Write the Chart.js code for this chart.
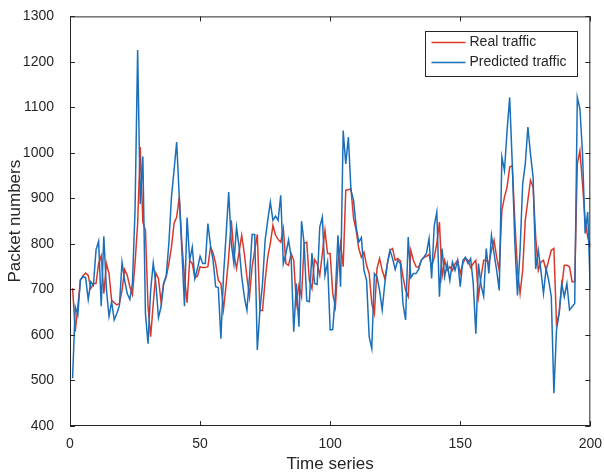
<!DOCTYPE html>
<html>
<head>
<meta charset="utf-8">
<script src="https://cdn.jsdelivr.net/npm/chart.js@4.4.1/dist/chart.umd.min.js"></script>
<style>
  html, body { margin: 0; padding: 0; background: #fff; }
</style>
</head>
<body>
<canvas id="traffic-chart" width="604" height="475"></canvas>
<script>
// series, one value per time step (1..200)
const realTraffic = [
  703, 607, 662, 720, 730, 736, 731, 702, 713, 713,
  757, 774, 691, 757, 735, 676, 671, 666, 669, 698,
  744, 731, 706, 689, 757, 845, 1013, 848, 830, 662,
  596, 669, 736, 724, 673, 713, 728, 757, 793, 845,
  859, 903, 801, 728, 671, 764, 757, 726, 729, 750,
  748, 748, 750, 793, 780, 757, 720, 713, 656, 710,
  771, 852, 779, 746, 782, 819, 779, 728, 684, 750,
  786, 821, 654, 654, 720, 771, 801, 841, 819, 810,
  804, 834, 757, 753, 779, 764, 669, 709, 684, 801,
  804, 720, 702, 766, 757, 731, 779, 830, 779, 779,
  691, 662, 757, 801, 750, 918, 919, 921, 856, 830,
  790, 771, 782, 753, 735, 669, 647, 746, 768, 742,
  724, 757, 786, 790, 764, 768, 763, 728, 698, 684,
  786, 764, 750, 748, 764, 770, 773, 777, 750, 770,
  801, 848, 728, 764, 742, 750, 742, 757, 764, 735,
  757, 768, 764, 748, 757, 764, 684, 728, 764, 764,
  757, 786, 808, 771, 742, 874, 903, 925, 969, 972,
  850, 742, 691, 742, 852, 896, 940, 925, 815, 742,
  760, 764, 742, 764, 786, 790, 625, 647, 706, 753,
  753, 750, 717, 717, 976, 1005, 932, 852, 815, 793
];

const predictedTraffic = [
  505, 662, 644, 722, 728, 726, 678, 717, 709, 787,
  806, 663, 817, 700, 641, 673, 633, 647, 665, 760,
  720, 691, 678, 713, 874, 1226, 888, 992, 647, 581,
  698, 758, 713, 638, 662, 713, 731, 801, 903, 962,
  1024, 903, 786, 663, 858, 764, 793, 724, 746, 773,
  757, 757, 845, 797, 764, 706, 704, 592, 730, 820,
  914, 801, 757, 837, 793, 728, 684, 654, 728, 821,
  821, 567, 654, 713, 808, 852, 892, 852, 861, 852,
  907, 757, 779, 809, 771, 607, 713, 618, 850, 801,
  675, 673, 780, 713, 711, 837, 859, 731, 760, 611,
  612, 691, 819, 706, 1049, 976, 1035, 918, 896, 837,
  804, 814, 742, 720, 596, 570, 735, 728, 698, 655,
  713, 757, 786, 768, 744, 764, 757, 668, 633, 815,
  726, 735, 735, 744, 764, 771, 779, 812, 724, 840,
  870, 684, 790, 728, 757, 720, 760, 742, 764, 706,
  764, 771, 757, 768, 713, 603, 757, 709, 685, 790,
  735, 819, 779, 742, 698, 991, 961, 1049, 1122, 976,
  801, 687, 786, 932, 976, 1057, 998, 947, 745, 786,
  742, 691, 746, 720, 684, 472, 611, 647, 713, 684,
  713, 655, 662, 669, 1122, 1097, 1000, 823, 870, 700
];

const seriesNames = ["Real traffic", "Predicted traffic"];
const seriesColors = ["#d9392b", "#1b6fb9"];
const xTicks = [0, 50, 100, 150, 200];
const yTicks = [400, 500, 600, 700, 800, 900, 1000, 1100, 1200, 1300];

const axisColor = "#262626";
const fontFamily = "'Liberation Sans', Arial, sans-serif";

const toPoints = (values) => values.map((v, i) => ({ x: i + 1, y: v }));

// box round the plot, inward ticks on all four sides, legend in the corner
const matlabFrame = {
  id: "matlabFrame",
  afterDraw(chart) {
    const { ctx, chartArea: a, scales } = chart;
    const tick = 5;
    ctx.save();
    ctx.strokeStyle = axisColor;
    ctx.lineWidth = 1;
    ctx.strokeRect(a.left + 0.5, a.top + 0.5, a.right - a.left - 1, a.bottom - a.top - 1);
    ctx.beginPath();
    xTicks.forEach((v) => {
      const px = Math.round(scales.x.getPixelForValue(v)) + 0.5;
      ctx.moveTo(px, a.bottom);
      ctx.lineTo(px, a.bottom - tick);
      ctx.moveTo(px, a.top);
      ctx.lineTo(px, a.top + tick);
    });
    yTicks.forEach((v) => {
      const py = Math.round(scales.y.getPixelForValue(v)) + 0.5;
      ctx.moveTo(a.left, py);
      ctx.lineTo(a.left + tick, py);
      ctx.moveTo(a.right, py);
      ctx.lineTo(a.right - tick, py);
    });
    ctx.stroke();

    // legend
    const box = { x: 425.5, y: 31.5, w: 152, h: 45 };
    ctx.fillStyle = "#fff";
    ctx.fillRect(box.x, box.y, box.w, box.h);
    ctx.strokeStyle = axisColor;
    ctx.strokeRect(box.x, box.y, box.w, box.h);
    ctx.font = "14px " + fontFamily;
    ctx.textBaseline = "middle";
    ctx.textAlign = "left";
    seriesNames.forEach((name, i) => {
      const y = box.y + 11 + i * 20;
      ctx.strokeStyle = seriesColors[i];
      ctx.lineWidth = 1.5;
      ctx.beginPath();
      ctx.moveTo(box.x + 6, y);
      ctx.lineTo(box.x + 40, y);
      ctx.stroke();
      ctx.fillStyle = axisColor;
      ctx.fillText(name, box.x + 44, y);
    });
    ctx.restore();
  },
};

new Chart(document.getElementById("traffic-chart"), {
  type: "line",
  data: {
    datasets: [
      {
        label: seriesNames[0],
        data: toPoints(realTraffic),
        borderColor: seriesColors[0],
        borderWidth: 1.5,
        pointRadius: 0,
        order: 1,
      },
      {
        label: seriesNames[1],
        data: toPoints(predictedTraffic),
        borderColor: seriesColors[1],
        borderWidth: 1.5,
        pointRadius: 0,
        order: 0,
      },
    ],
  },
  options: {
    responsive: false,
    animation: false,
    layout: { padding: { top: 16, right: 11, left: 0, bottom: 0 } },
    plugins: { legend: { display: false }, tooltip: { enabled: false } },
    scales: {
      x: {
        type: "linear",
        min: 0,
        max: 200,
        afterBuildTicks: (s) => { s.ticks = xTicks.map((v) => ({ value: v })); },
        afterFit: (s) => { s.height = 49; },
        grid: { display: false },
        border: { display: false },
        ticks: {
          color: axisColor,
          font: { family: fontFamily, size: 14 },
          padding: 2,
          maxRotation: 0,
          callback: (v) => String(v),
        },
        title: {
          display: true,
          text: "Time series",
          color: axisColor,
          font: { family: fontFamily, size: 17 },
          padding: { top: 0, bottom: 0 },
        },
      },
      y: {
        min: 400,
        max: 1300,
        afterBuildTicks: (s) => { s.ticks = yTicks.map((v) => ({ value: v })); },
        afterFit: (s) => { s.width = 70; },
        grid: { display: false },
        border: { display: false },
        ticks: {
          color: axisColor,
          font: { family: fontFamily, size: 14 },
          padding: 8,
          callback: (v) => String(v),
        },
        title: {
          display: true,
          text: "Packet numbers",
          color: axisColor,
          font: { family: fontFamily, size: 17 },
          padding: { top: 5, bottom: 0 },
        },
      },
    },
  },
  plugins: [matlabFrame],
});
</script>
</body>
</html>
